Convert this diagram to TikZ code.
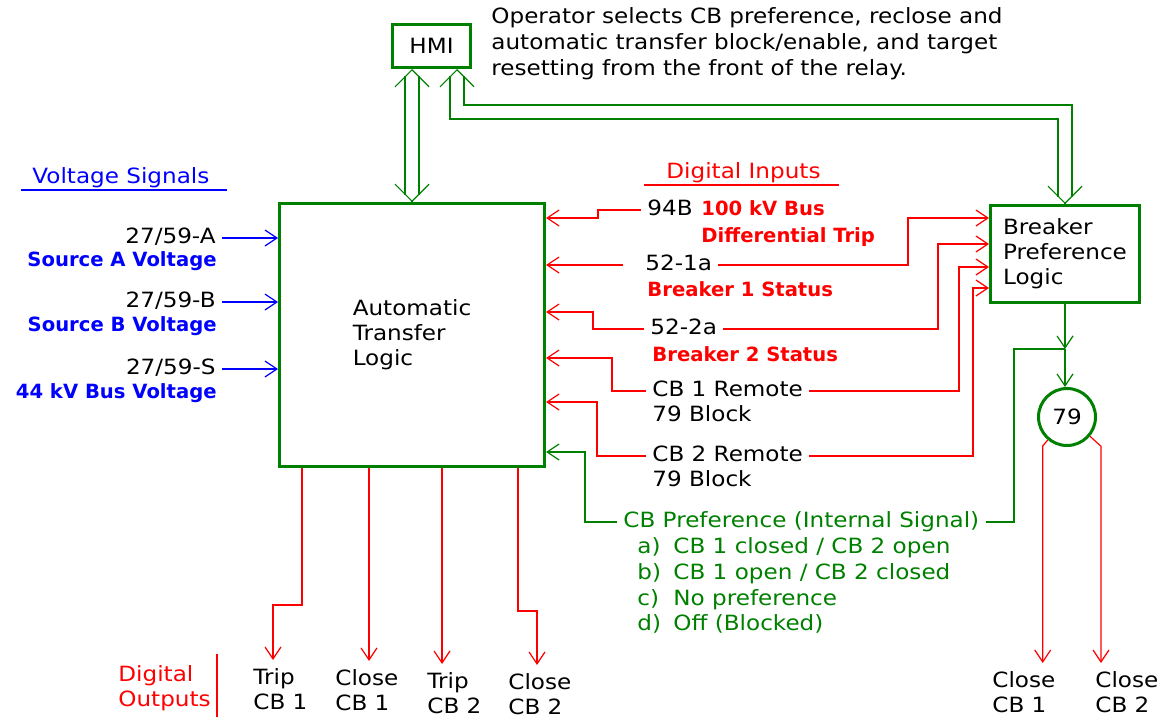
\documentclass[tikz,border=0pt]{standalone}
\usepackage{fontspec}
\setmainfont{DejaVu Sans}[FakeStretch=1.1]
\newfontfamily\hifont{DejaVu Sans}
\usepackage{tikz}
\usetikzlibrary{arrows.meta}
\usetikzlibrary{calc}
\definecolor{wire}{RGB}{0,128,0}

\begin{document}
\begin{tikzpicture}[x=0.5pt, y=-0.5pt, >={Straight Barb[length=6pt,width=8pt]},
  every node/.style={font=\fontsize{10.5pt}{12.5pt}\selectfont},
  box/.style={draw=wire, line width=1.5pt, inner sep=0pt},
  lbl/.style={inner xsep=3pt, inner ysep=0pt, text height=7.5pt, text depth=2pt},
  outl/.style={align=left, inner xsep=0pt, inner ysep=4pt, anchor=north west},
  hot/.style={lbl, text=red, font=\hifont\bfseries\fontsize{9.8pt}{11pt}\selectfont},
  src/.style={lbl, text=blue, font=\hifont\bfseries\fontsize{9.8pt}{11pt}\selectfont},
  redarrow/.style={draw=red, line width=0.6pt, ->},
  bluearrow/.style={draw=blue, line width=0.6pt, ->},
  grnarrow/.style={draw=wire, line width=0.6pt, ->},
  grnline/.style={draw=wire, line width=0.6pt},
  dbl/.style={draw=wire, line width=0.6pt, double, double distance=6.4pt, shorten <=3.5pt, shorten >=3.5pt},
  dtip/.style={draw=wire, line width=0.6pt, -{Straight Barb[length=8.5pt,width=17pt]}},
]
\useasboundingbox (0,0) rectangle (1160,717);

\node[box, minimum width=39pt, minimum height=21.5pt] (hmi) at (431.5,46) {HMI};
\node[box, align=left, minimum width=132.5pt, minimum height=131.5pt] (atl) at (412,335) {Automatic\\Transfer\\Logic};
\node[box, align=left, minimum width=74.5pt, minimum height=48.5pt] (bpl) at (1065,254) {Breaker\\Preference\\Logic};
\node[box, circle, minimum size=28.5pt] (r79) at (1067,417) {79};
\node[align=left, anchor=west, inner sep=0pt, font=\fontsize{10.5pt}{13pt}\selectfont] (op) at (491,44) {Operator selects CB preference, reclose and\\automatic transfer block/enable, and target\\resetting from the front of the relay.};

\node[lbl, text=blue, anchor=west] (vsig) at (26,178) {Voltage Signals};
\node[lbl, anchor=east] (va) at (222,238) {27/59-A};
\node[src, anchor=east] (vas) at (223,261) {Source A Voltage};
\node[lbl, anchor=east] (vb) at (222,302) {27/59-B};
\node[src, anchor=east] (vbs) at (223,326) {Source B Voltage};
\node[lbl, anchor=east] (vs) at (222,369) {27/59-S};
\node[src, anchor=east] (vss) at (223,393) {44 kV Bus Voltage};

\node[lbl, text=red, anchor=west] (din) at (660,173) {Digital Inputs};
\node[lbl, anchor=west] (i94) at (641,210) {94B};
\node[hot, anchor=west] (i94a) at (695,210) {100 kV Bus};
\node[hot, anchor=west] (i94b) at (695,237) {Differential Trip};
\node[lbl, anchor=west] (i521) at (639,265) {52-1a};
\node[hot, anchor=west] (b1s) at (641,291) {Breaker 1 Status};
\node[lbl, anchor=west] (i522) at (644,329) {52-2a};
\node[hot, anchor=west] (b2s) at (646,356) {Breaker 2 Status};
\node[lbl, anchor=west] (rm1) at (646,391) {CB 1 Remote};
\node[lbl, anchor=west] (rm1b) at (646,416) {79 Block};
\node[lbl, anchor=west] (rm2) at (646,456) {CB 2 Remote};
\node[lbl, anchor=west] (rm2b) at (646,481) {79 Block};
\node[lbl, text=wire, anchor=west] (cbp) at (617,522) {CB Preference (Internal Signal)};
\node[lbl, text=wire, anchor=west] (pa) at (631,548) {\makebox[18pt][l]{a)}CB 1 closed / CB 2 open};
\node[lbl, text=wire, anchor=west] (pb) at (631,574) {\makebox[18pt][l]{b)}CB 1 open / CB 2 closed};
\node[lbl, text=wire, anchor=west] (pc) at (631,600) {\makebox[18pt][l]{c)}No preference};
\node[lbl, text=wire, anchor=west] (pd) at (631,625) {\makebox[18pt][l]{d)}Off (Blocked)};

\node[outl, text=red] (dout) at (118,657) {Digital\\Outputs};
\node[outl] (ot1) at (253,660) {Trip\\CB 1};
\node[outl] (oc1) at (335,661) {Close\\CB 1};
\node[outl] (ot2) at (427,664) {Trip\\CB 2};
\node[outl] (oc2) at (508,665) {Close\\CB 2};
\node[outl] (bc1) at (992,663) {Close\\CB 1};
\node[outl] (bc2) at (1095,663) {Close\\CB 2};

\draw[blue, line width=1.2pt] (21,190) -- (227,190);
\draw[red, line width=1.2pt] (644,185) -- (839,185);
\draw[red, line width=1.4pt] (217,654) -- (217,717);

\coordinate (h1) at (hmi.south -| 412,0);
\coordinate (a1) at (atl.north -| 412,0);
\coordinate (h2) at (hmi.south -| 457,0);
\coordinate (jn) at (1065,349);
 \draw[dbl] (h1) -- (a1);
 \draw[dtip] ($(h1)+(0,1)$) -- (h1);
 \draw[dtip] ($(a1)-(0,1)$) -- (a1);
 \draw[dbl] (h2) |- (bpl.north |- 0,112) -- (bpl.north);
 \draw[dtip] ($(h2)+(0,1)$) -- (h2);
 \draw[dtip] ($(bpl.north)-(0,1)$) -- (bpl.north);

 \draw[bluearrow] (va.east) -- (atl.west |- va.east);
 \draw[bluearrow] (vb.east) -- (atl.west |- vb.east);
 \draw[bluearrow] (vs.east) -- (atl.west |- vs.east);

 \draw[redarrow] (i94.west) -- (i94.west -| 598,0) |- (atl.east |- 0,218);
 \draw[redarrow] ([xshift=-8pt]i521.west) -- (atl.east |- i521.west);
 \draw[redarrow] (i522.west) -- (i522.west -| 593,0) |- (atl.east |- 0,312);
 \draw[redarrow] (rm1.west) -- (rm1.west -| 612,0) |- (atl.east |- 0,358);
 \draw[redarrow] (rm2.west) -- (rm2.west -| 597,0) |- (atl.east |- 0,402);
 \draw[grnarrow] (cbp.west) -- (cbp.west -| 585,0) |- (atl.east |- 0,452);

 \draw[redarrow] (i521.east) -- (i521.east -| 908,0) |- (bpl.west |- 0,218);
 \draw[redarrow] (i522.east) -- (i522.east -| 938,0) |- (bpl.west |- 0,244);
 \draw[redarrow] (rm1.east) -- (rm1.east -| 959,0) |- (bpl.west |- 0,267);
 \draw[redarrow] (rm2.east) -- (rm2.east -| 973,0) |- (bpl.west |- 0,288);

 \draw[grnarrow] (bpl.south) -- (jn);
 \draw[grnarrow] (jn) -- (jn |- r79.north);
 \draw[grnline] (cbp.east) -- (cbp.east -| 1014,0) |- (jn);

 \draw[redarrow] (atl.south -| 302,0) |- (273,605) -- (ot1.north -| 273,0);
 \draw[redarrow] (atl.south -| 369,0) -- (oc1.north -| 369,0);
 \draw[redarrow] (atl.south -| 442,0) -- (ot2.north -| 442,0);
 \draw[redarrow] (atl.south -| 518,0) |- (537,611) -- (oc2.north -| 537,0);
 \draw[redarrow] (r79.230) -- ++(-5,6) coordinate (q1) -- (q1 |- bc1.north);
 \draw[redarrow] (r79.-40) -- ++(11,10) coordinate (q2) -- (q2 |- bc2.north);
\end{tikzpicture}
\end{document}
